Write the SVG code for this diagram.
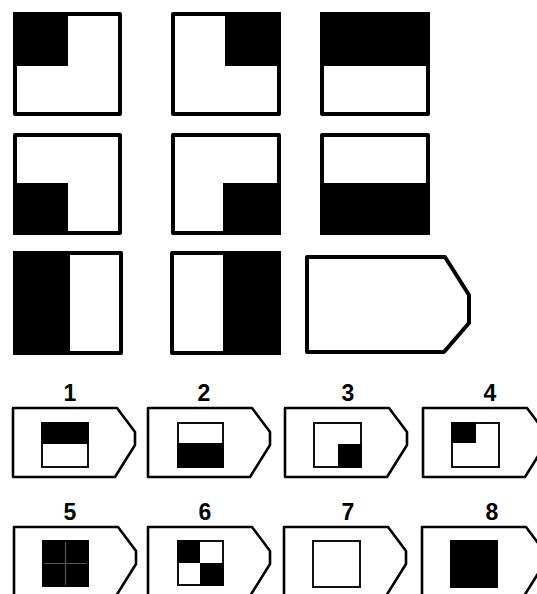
<svg xmlns="http://www.w3.org/2000/svg" width="537" height="594" viewBox="0 0 537 594">
<style>
.big{fill:#fff;stroke:#000;stroke-width:4;stroke-linejoin:round}
.blk{fill:#000}
.pent{fill:#fff;stroke:#000;stroke-width:2.6;stroke-linejoin:round}
.inn{fill:#fff;stroke:#111;stroke-width:2}
.lbl{font-family:"Liberation Sans",Arial,sans-serif;font-weight:bold;font-size:23px;text-anchor:middle;fill:#000}
</style>
<defs>
<path id="pt" d="M0,0 H104 L122,24 V37 L102,69 H0 Z"/>
</defs>
<rect width="537" height="594" fill="#fff"/>
<g id="sq1"><rect class="big" x="15" y="14" width="105" height="100"/><rect class="blk" x="13" y="12" width="55" height="54"/></g>
<g id="sq2"><rect class="big" x="173" y="14" width="106" height="100"/><rect class="blk" x="225" y="12" width="56" height="54"/></g>
<g id="sq3"><rect class="big" x="322" y="14" width="106" height="100"/><rect class="blk" x="320" y="12" width="110" height="54"/></g>
<g id="sq4"><rect class="big" x="15" y="135" width="105" height="98"/><rect class="blk" x="13" y="183" width="55" height="52"/></g>
<g id="sq5"><rect class="big" x="173" y="135" width="106" height="98"/><rect class="blk" x="223" y="183" width="58" height="52"/></g>
<g id="sq6"><rect class="big" x="322" y="135" width="106" height="98"/><rect class="blk" x="320" y="183" width="110" height="52"/></g>
<g id="sq7"><rect class="big" x="15" y="253" width="106" height="100"/><rect class="blk" x="13" y="251" width="57" height="104"/></g>
<g id="sq8"><rect class="big" x="172" y="253" width="107" height="100"/><rect class="blk" x="223" y="251" width="58" height="104"/></g>
<g id="bigpent"><path class="big" d="M307,257 H445 L469,295 V323 L444,352 H307 Z"/></g>

<g id="opt1"><text class="lbl" x="70" y="401">1</text><use href="#pt" class="pent" x="13" y="408"/><rect class="inn" x="42" y="423" width="46" height="44"/><rect class="blk" x="41" y="422" width="48" height="22"/></g>
<g id="opt2"><text class="lbl" x="204" y="401">2</text><use href="#pt" class="pent" x="148" y="408"/><rect class="inn" x="178" y="423" width="45" height="44"/><rect class="blk" x="177" y="443" width="47" height="25"/></g>
<g id="opt3"><text class="lbl" x="348" y="401">3</text><use href="#pt" class="pent" x="285" y="408"/><rect class="inn" x="314" y="423" width="47" height="44"/><rect class="blk" x="338" y="444" width="24" height="24"/></g>
<g id="opt4"><text class="lbl" x="490" y="401">4</text><use href="#pt" class="pent" x="423" y="408"/><rect class="inn" x="452" y="423" width="47" height="44"/><rect class="blk" x="451" y="422" width="25" height="21"/></g>

<g id="opt5"><text class="lbl" x="70" y="520">5</text><use href="#pt" class="pent" x="14" y="527"/><rect class="blk" x="42" y="540" width="47" height="47"/><path d="M65.5,542 V585 M44,563.5 H87" stroke="#777" stroke-width="1.2" opacity="0.7"/></g>
<g id="opt6"><text class="lbl" x="205" y="520">6</text><use href="#pt" class="pent" x="148" y="527"/><rect class="inn" x="178" y="541" width="45" height="44"/><rect class="blk" x="177" y="540" width="23" height="23"/><rect class="blk" x="200" y="563" width="24" height="23"/></g>
<g id="opt7"><text class="lbl" x="348" y="520">7</text><use href="#pt" class="pent" x="284" y="527"/><rect class="inn" x="313" y="541" width="47" height="46"/></g>
<g id="opt8"><text class="lbl" x="492" y="520">8</text><use href="#pt" class="pent" x="422" y="527"/><rect class="blk" x="450" y="540" width="48" height="48"/></g>
</svg>
